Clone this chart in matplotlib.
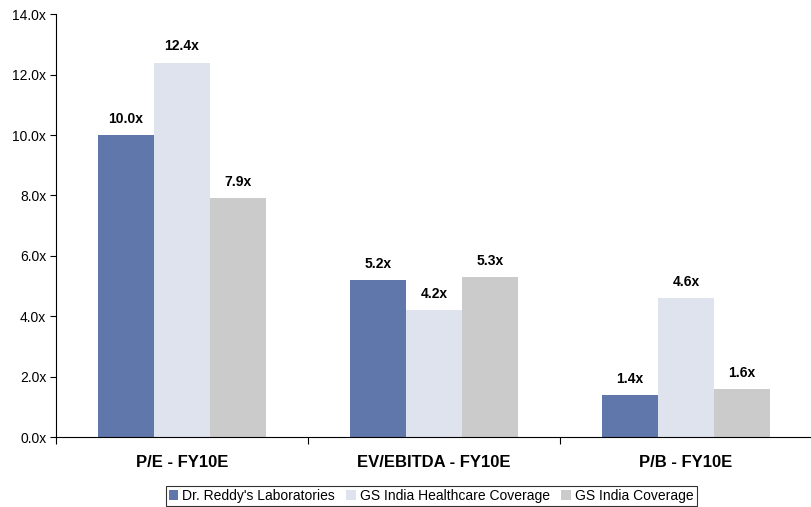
import matplotlib
matplotlib.use("Agg")
import matplotlib.pyplot as plt
import numpy as np

categories = ["P/E - FY10E", "EV/EBITDA - FY10E", "P/B - FY10E"]
series_names = ["Dr. Reddy's Laboratories", "GS India Healthcare Coverage", "GS India Coverage"]
drl = [10.0, 5.2, 1.4]
healthcare = [12.4, 4.2, 4.6]
india = [7.9, 5.3, 1.6]
yticks = [0, 2, 4, 6, 8, 10, 12, 14]

colors = ["#5F77AA", "#DFE3EE", "#CBCBCB"]

plt.rcParams["font.family"] = ["Liberation Sans", "DejaVu Sans"]

fig = plt.figure(figsize=(8.12, 5.07), dpi=100)
ax = fig.add_axes([0.069, 0.138, 0.931, 0.834])

x = np.arange(len(categories))
w = 0.2225
for i, (vals, c, name) in enumerate(zip([drl, healthcare, india], colors, series_names)):
    pos = x + (i - 1) * w
    bars = ax.bar(pos, vals, width=w, color=c, label=name, edgecolor="none")
    for b, v in zip(bars, vals):
        ax.text(b.get_x() + b.get_width() / 2, v + 0.3, f"{v:.1f}x",
                ha="center", va="bottom", fontsize=10, fontweight="bold")

ax.set_xlim(-0.5, 2.5)
ax.set_ylim(0, 14)
ax.set_yticks(yticks)
ax.set_yticklabels([f"{t:.1f}x" for t in yticks], fontsize=10)

# category boundaries as tick marks, labels centered in between
ax.set_xticks([-0.5, 0.5, 1.5, 2.5])
ax.set_xticklabels([])
ax.set_xticks(x, minor=True)
ax.set_xticklabels(categories, minor=True, fontsize=12, fontweight="bold")
ax.tick_params(axis="x", which="minor", length=0, pad=13)
ax.tick_params(axis="x", which="major", length=5, direction="out")
ax.tick_params(axis="y", length=4, direction="out", pad=3)

for s in ["top", "right"]:
    ax.spines[s].set_visible(False)
ax.spines["left"].set_linewidth(0.8)
ax.spines["bottom"].set_linewidth(0.8)

leg = fig.legend(loc="lower center", bbox_to_anchor=(0.531, 0.0), ncol=3,
                 fontsize=10, frameon=True, fancybox=False, edgecolor="black",
                 handlelength=0.7, handleheight=0.7, handletextpad=0.3,
                 columnspacing=0.8, borderpad=0.2, borderaxespad=0.1)
leg.get_frame().set_linewidth(0.8)

fig.savefig("out.png", dpi=100)
